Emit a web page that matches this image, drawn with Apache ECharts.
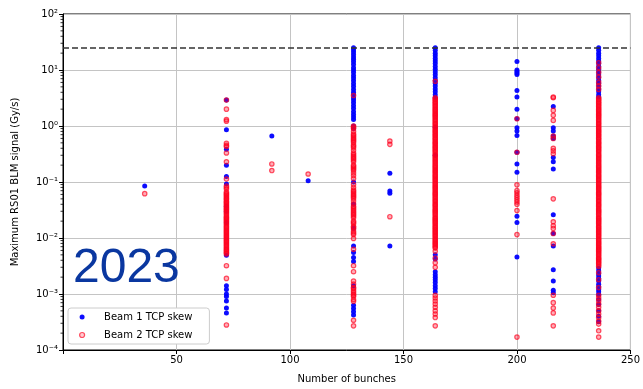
<!DOCTYPE html>
<html><head><meta charset="utf-8">
<script src="https://cdn.jsdelivr.net/npm/echarts@6/dist/echarts.min.js"></script>
<style>html,body{margin:0;padding:0;background:#fff}#c{width:643px;height:389px}</style>
</head><body><div id="c"></div>
<script>
// ---- data ----
const xTicks = [50, 100, 150, 200, 250];
const yTickExp = [-4, -3, -2, -1, 0, 1, 2];
const threshold = [25];
const legendNames = ['Beam 1 TCP skew', 'Beam 2 TCP skew'];

// Beam 1 TCP skew (blue), per number of bunches
const b1_36 = [0.085];
const b1_72 = [2.9, 0.86, 0.385, 0.2, 0.126, 0.092, 0.037, 0.03, 0.019, 0.0049, 0.0014, 0.0012, 0.001, 0.0009, 0.00075, 0.00056, 0.00046];
const b1_92 = [0.66];
const b1_108 = [0.105];
const b1_128 = [25, 23, 21, 19, 17, 15.5, 14, 12.5, 11, 10, 9, 8, 7.2, 6.4, 5.7, 5.1, 4.5, 4, 3.6, 3.2, 2.9, 2.6, 2.3, 2.05, 1.8, 1.6, 1.45, 1.3, 1.0, 0.9, 0.1, 0.04, 0.015, 0.0072, 0.0055, 0.0045, 0.0038, 0.0014, 0.00063, 0.00055, 0.00048, 0.00042];
const b1_144 = [0.144, 0.069, 0.063, 0.0072];
const b1_164 = [25, 22.5, 20, 18, 16, 14.5, 13, 11.5, 10.3, 9.2, 8.2, 7.3, 6.5, 5.8, 5.2, 4.6, 4.1, 3.6, 3.2, 0.95, 0.3, 0.005, 0.0042, 0.0025, 0.0022, 0.002, 0.0018, 0.0016, 0.0014, 0.00125, 0.0011];
const b1_200 = [14.2, 10, 9.4, 8.8, 8.3, 4.3, 3.3, 2.0, 1.35, 0.93, 0.81, 0.68, 0.34, 0.21, 0.15, 0.0245, 0.019, 0.0046];
const b1_216 = [2.24, 0.93, 0.81, 0.66, 0.6, 0.275, 0.23, 0.17, 0.026, 0.012, 0.0072, 0.0027, 0.0017, 0.00117, 0.00105];
const b1_236 = [25, 22.5, 20, 18, 16, 14.5, 13, 11.5, 10.3, 9.2, 8.2, 7.3, 6.5, 5.8, 5.2, 4.6, 4.1, 3.6, 3.3, 0.0029, 0.0026, 0.0023, 0.0021, 0.0019, 0.0017, 0.0015, 0.00135, 0.0012, 0.0011, 0.00098, 0.0008, 0.00065, 0.0005, 0.0004, 0.00032];

// Beam 2 TCP skew (red), per number of bunches
const b2_36 = [0.062];
const b2_72 = [2.9, 2.0, 1.3, 1.22, 0.49, 0.45, 0.43, 0.33, 0.23, 0.113, 0.085, 0.08, 0.075, 0.066, 0.06, 0.054, 0.049, 0.044, 0.04, 0.036, 0.033, 0.03, 0.027, 0.024, 0.022, 0.02, 0.018, 0.016, 0.0145, 0.013, 0.0118, 0.0106, 0.0096, 0.0087, 0.0078, 0.007, 0.0063, 0.0057, 0.0052, 0.0032, 0.0019, 0.00028,
  0.063, 0.057, 0.051, 0.046, 0.042, 0.038, 0.0345, 0.0315, 0.0285, 0.0255, 0.023, 0.021, 0.019, 0.017, 0.0153, 0.0137, 0.0124, 0.0112, 0.0101, 0.0091, 0.0082, 0.0074, 0.0066, 0.006, 0.0054];
const b2_92 = [0.21, 0.16];
const b2_108 = [0.139];
const b2_128 = [3.5, 1.0, 0.9, 0.8, 0.72, 0.64, 0.57, 0.51, 0.46, 0.41, 0.37, 0.33, 0.29, 0.26, 0.23, 0.2, 0.18, 0.16, 0.145, 0.13, 0.115, 0.09, 0.08, 0.072, 0.064, 0.057, 0.051, 0.046, 0.041, 0.037, 0.033, 0.029, 0.026, 0.023, 0.02, 0.018, 0.016, 0.0145, 0.013, 0.0115, 0.0098, 0.0063, 0.0032, 0.0025, 0.0017, 0.0015, 0.0013, 0.00115, 0.001, 0.0009, 0.0008, 0.00074, 0.00034, 0.00027,
  0.95, 0.68, 0.6, 0.54, 0.435, 0.31, 0.275, 0.245, 0.19, 0.17, 0.068, 0.06, 0.054, 0.035, 0.031, 0.0275, 0.0245, 0.019, 0.0155, 0.0122, 0.00125, 0.00107, 0.00095];
const b2_144 = [0.54, 0.47, 0.024];
const b2_164 = [6.3, 3.2, 2.9, 2.6, 2.35, 2.1, 1.9, 1.7, 1.55, 1.4, 1.25, 1.12, 1.0, 0.9, 0.81, 0.73, 0.66, 0.59, 0.53, 0.48, 0.43, 0.39, 0.35, 0.31, 0.28, 0.25, 0.225, 0.2, 0.18, 0.162, 0.146, 0.131, 0.118, 0.106, 0.095, 0.085, 0.077, 0.069, 0.062, 0.056, 0.05, 0.045, 0.04, 0.036, 0.032, 0.029, 0.026, 0.023, 0.021, 0.019, 0.017, 0.0153, 0.0138, 0.0124, 0.0112, 0.01, 0.009, 0.0081, 0.0073, 0.0066, 0.0058, 0.0044, 0.0036, 0.003, 0.00095, 0.00085, 0.00075, 0.00066, 0.00058, 0.0005, 0.00044, 0.00038, 0.00027,
  3.05, 2.75, 2.48, 2.22, 2.0, 1.8, 1.62, 1.47, 1.32, 1.18, 1.06, 0.95, 0.85, 0.77, 0.69, 0.62, 0.56, 0.5, 0.455, 0.41, 0.37, 0.33, 0.295, 0.265, 0.237, 0.212, 0.19, 0.171, 0.154, 0.138, 0.124, 0.112, 0.1, 0.09, 0.081, 0.073, 0.065, 0.059, 0.053, 0.047, 0.042, 0.038, 0.034, 0.0305, 0.0275, 0.0245, 0.022, 0.02, 0.018, 0.016, 0.0145, 0.013, 0.0118, 0.0106, 0.0095, 0.0085, 0.0077, 0.0069];
const b2_200 = [1.35, 0.34, 0.089, 0.07, 0.064, 0.058, 0.053, 0.048, 0.044, 0.04, 0.031, 0.0115, 0.00017];
const b2_216 = [3.3, 3.2, 1.9, 1.55, 1.26, 0.66, 0.6, 0.4, 0.36, 0.32, 0.05, 0.0195, 0.0165, 0.0148, 0.012, 0.0079, 0.00095, 0.0007, 0.00056, 0.00046, 0.00027];
const b2_236 = [13.5, 11, 9, 7.5, 6, 5.2, 4.5, 3.2, 2.9, 2.6, 2.35, 2.1, 1.9, 1.7, 1.55, 1.4, 1.25, 1.12, 1.0, 0.9, 0.81, 0.73, 0.66, 0.59, 0.53, 0.48, 0.43, 0.39, 0.35, 0.31, 0.28, 0.25, 0.225, 0.2, 0.18, 0.162, 0.146, 0.131, 0.118, 0.106, 0.095, 0.085, 0.077, 0.069, 0.062, 0.056, 0.05, 0.045, 0.04, 0.036, 0.032, 0.029, 0.026, 0.023, 0.021, 0.019, 0.017, 0.0153, 0.0138, 0.0124, 0.0112, 0.01, 0.009, 0.0081, 0.0073, 0.0066, 0.006, 0.0054, 0.0048, 0.0043, 0.0039, 0.0035, 0.0031, 0.0024, 0.0018, 0.0013, 0.00095, 0.00085, 0.00075, 0.00066, 0.00058, 0.0005, 0.00044, 0.00038, 0.00033, 0.00029, 0.00022, 0.00017,
  3.05, 2.75, 2.48, 2.22, 2.0, 1.8, 1.62, 1.47, 1.32, 1.18, 1.06, 0.95, 0.85, 0.77, 0.69, 0.62, 0.56, 0.5, 0.455, 0.41, 0.37, 0.33, 0.295, 0.265, 0.237, 0.212, 0.19, 0.171, 0.154, 0.138, 0.124, 0.112, 0.1, 0.09, 0.081, 0.073, 0.065, 0.059, 0.053, 0.047, 0.042, 0.038, 0.034, 0.0305, 0.0275, 0.0245, 0.022, 0.02, 0.018, 0.016, 0.0145, 0.013, 0.0118, 0.0106, 0.0095, 0.0085, 0.0077, 0.0069, 0.0063, 0.0057, 0.0051, 0.0045, 0.0041, 0.0037, 0.0033];

const beam1Cols = [[36, b1_36], [72, b1_72], [92, b1_92], [108, b1_108], [128, b1_128], [144, b1_144], [164, b1_164], [200, b1_200], [216, b1_216], [236, b1_236]];
const beam2Cols = [[36, b2_36], [72, b2_72], [92, b2_92], [108, b2_108], [128, b2_128], [144, b2_144], [164, b2_164], [200, b2_200], [216, b2_216], [236, b2_236]];

function pairs(cols) {
  const out = [];
  cols.forEach(([x, arr]) => arr.forEach(v => out.push([x, v])));
  return out;
}
// minor ticks of the log axis (2..9 times each decade)
const minorMult = [2, 3, 4, 5, 6, 7, 8, 9];
const minorTicks = [];
yTickExp.slice(0, -1).forEach(e => minorMult.forEach(m => minorTicks.push([0, m * Math.pow(10, e)])));

const supMap = {'-': '\u207B', '0': '\u2070', '1': '\u00B9', '2': '\u00B2', '3': '\u00B3', '4': '\u2074'};
function expLabel(v) {
  const e = Math.round(Math.log10(v));
  return '10' + String(e).split('').map(c => supMap[c]).join('');
}

const FONT = 'DejaVu Sans';
const RED_FILL = 'rgba(255,0,30,0.4)';
const RED_EDGE = 'rgba(255,0,30,0.85)';
const chart = echarts.init(document.getElementById('c'), null, {renderer: 'canvas'});
chart.setOption({
  animation: false,
  backgroundColor: '#fff',
  textStyle: {fontFamily: FONT},
  grid: {left: 63, right: 12, top: 14, bottom: 37, show: true, borderColor: '#000', borderWidth: 1, backgroundColor: 'transparent'},
  xAxis: {
    type: 'value', min: 0, max: 250, interval: 50,
    name: 'Number of bunches', nameLocation: 'middle', nameGap: 24,
    nameTextStyle: {fontFamily: FONT, fontSize: 10, color: '#000'},
    axisLine: {lineStyle: {color: '#000', width: 1}},
    axisTick: {length: 4, lineStyle: {color: '#000'}},
    axisLabel: {fontFamily: FONT, fontSize: 10, color: '#000', margin: 5,
      formatter: v => (xTicks.indexOf(v) >= 0 ? String(v) : '')},
    splitLine: {show: true, lineStyle: {color: '#c4c4c4', width: 1}}
  },
  yAxis: {
    type: 'log', logBase: 10, min: 1e-4, max: 100, splitNumber: 6,
    name: 'Maximum RS01 BLM signal (Gy/s)', nameLocation: 'middle', nameGap: 43,
    nameTextStyle: {fontFamily: FONT, fontSize: 10, color: '#000'},
    axisLine: {show: true, lineStyle: {color: '#000', width: 1}},
    axisTick: {show: true, length: 4, lineStyle: {color: '#000'}},
    axisLabel: {fontFamily: FONT, fontSize: 10, color: '#000', margin: 5, formatter: expLabel},
    splitLine: {show: true, lineStyle: {color: '#c4c4c4', width: 1}}
  },
  legend: {
    data: [
      {name: legendNames[0], itemStyle: {color: '#0000ff'}},
      {name: legendNames[1], itemStyle: {color: 'rgba(255,0,30,0.25)', borderColor: RED_EDGE, borderWidth: 1.2}}
    ],
    orient: 'vertical', left: 68, top: 308,
    itemWidth: 34, itemHeight: 5, itemGap: 8,
    padding: [4, 17, 4, 11],
    backgroundColor: '#fff', borderColor: '#cccccc', borderWidth: 1, borderRadius: 3,
    textStyle: {fontFamily: FONT, fontSize: 10, color: '#000'}
  },
  graphic: [{
    type: 'text', left: 73, top: 245, z: 5,
    style: {text: '2023', fill: '#0a37a0', font: '48px "Liberation Sans", Arial, sans-serif'}
  }],
  series: [
    {
      name: legendNames[0], type: 'scatter', symbol: 'circle', symbolSize: 5,
      data: pairs(beam1Cols), z: 2,
      itemStyle: {color: '#0000ff', opacity: 0.95}
    },
    {
      name: legendNames[1], type: 'scatter', symbol: 'circle', symbolSize: 4.4,
      data: pairs(beam2Cols), z: 3,
      itemStyle: {color: RED_FILL, borderColor: RED_EDGE, borderWidth: 1.2}
    },
    {
      name: 'threshold', type: 'line', data: [], z: 4, silent: true,
      markLine: {
        symbol: 'none', silent: true, label: {show: false},
        lineStyle: {color: '#333', type: [6, 3], width: 1.5},
        data: threshold.map(v => ({yAxis: v}))
      }
    },
    {
      name: 'minor', type: 'custom', silent: true, z: 1, clip: false,
      data: minorTicks,
      encode: {x: 0, y: 1},
      renderItem: (params, api) => {
        const p = api.coord([api.value(0), api.value(1)]);
        return {type: 'line', shape: {x1: p[0] - 2.5, y1: p[1], x2: p[0], y2: p[1]},
          style: {stroke: '#000', lineWidth: 0.8}};
      }
    }
  ]
});
</script></body></html>
